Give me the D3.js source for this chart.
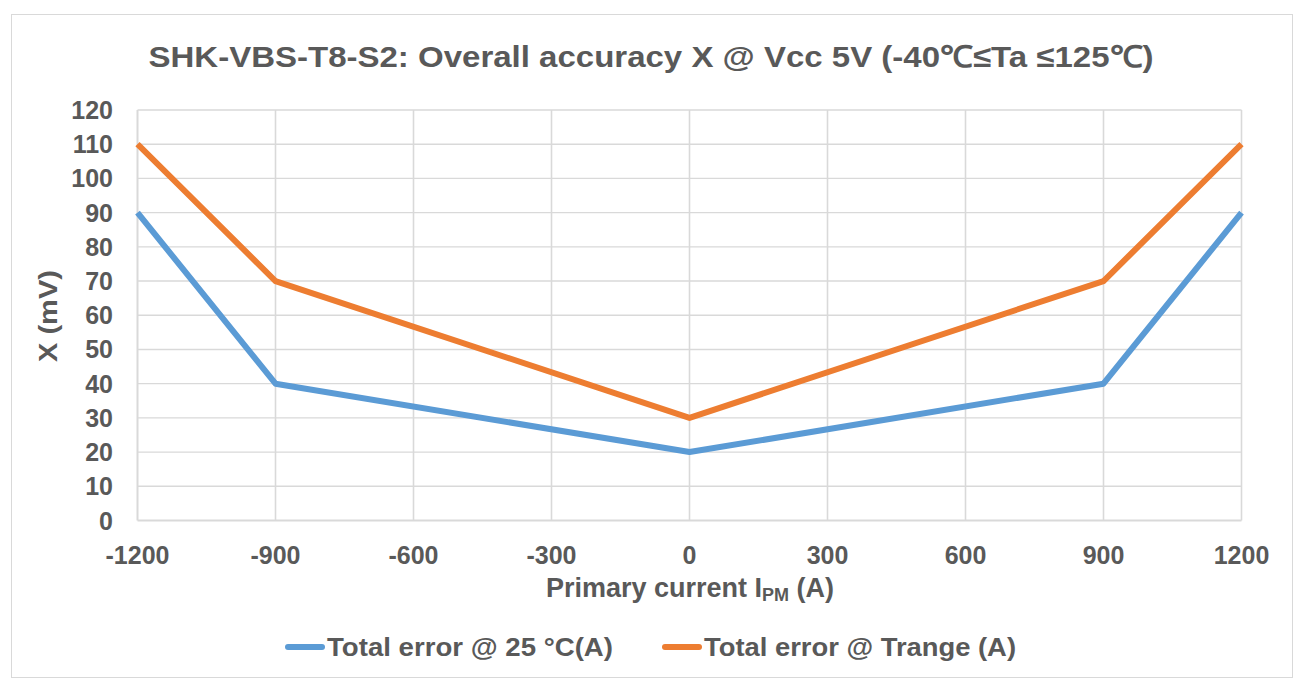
<!DOCTYPE html>
<html>
<head>
<meta charset="utf-8">
<script src="https://cdn.jsdelivr.net/npm/d3@7"></script>
<style>
  body { margin: 0; background: #fff; }
  text { font-family: "Liberation Sans", Arial, sans-serif; fill: #595959; font-weight: bold; }
</style>
</head>
<body>
<div id="chart"></div>
<script>
const currents = [-1200, -900, 0, 900, 1200];
const err25 = [90, 40, 20, 40, 90];
const errRange = [110, 70, 30, 70, 110];
const xTicks = [-1200, -900, -600, -300, 0, 300, 600, 900, 1200];
const yTicks = [0, 10, 20, 30, 40, 50, 60, 70, 80, 90, 100, 110, 120];
const seriesNames = ["Total error @ 25 °C(A)", "Total error @ Trange (A)"];
const colors = ["#5b9bd5", "#ed7d31"];

const width = 1295;
const height = 686;
const svg = d3.select("#chart").append("svg")
    .attr("width", width)
    .attr("height", height);

// chart border
svg.append("rect")
    .attr("x", 11.5).attr("y", 14.5)
    .attr("width", 1281).attr("height", 663)
    .attr("fill", "#fff")
    .attr("stroke", "#d9d9d9");

const x = d3.scaleLinear().domain([-1200, 1200]).range([137.5, 1241.5]);
const y = d3.scaleLinear().domain([0, 120]).range([520.5, 110]);

// gridlines
svg.append("g").selectAll("line")
    .data(yTicks)
    .enter().append("line")
    .attr("x1", x(-1200)).attr("x2", x(1200))
    .attr("y1", d => y(d)).attr("y2", d => y(d))
    .attr("stroke", "#d9d9d9")
    .attr("stroke-width", d => d === 0 ? 2 : 1.4);

svg.append("g").selectAll("line")
    .data(xTicks)
    .enter().append("line")
    .attr("x1", d => x(d)).attr("x2", d => x(d))
    .attr("y1", y(0)).attr("y2", y(120))
    .attr("stroke", "#d9d9d9")
    .attr("stroke-width", d => d === -1200 ? 2 : 1.6);

// tick labels
svg.append("g").selectAll("text")
    .data(yTicks)
    .enter().append("text")
    .attr("x", 113)
    .attr("y", d => y(d))
    .attr("dy", "0.36em")
    .attr("text-anchor", "end")
    .style("font-size", "25px")
    .text(d => d);

svg.append("g").selectAll("text")
    .data(xTicks)
    .enter().append("text")
    .attr("x", d => x(d))
    .attr("y", 555)
    .attr("dy", "0.36em")
    .attr("text-anchor", "middle")
    .style("font-size", "25px")
    .text(d => d);

// axis titles
const xt = svg.append("text")
    .attr("x", 690).attr("y", 597)
    .attr("text-anchor", "middle")
    .style("font-size", "27px");
xt.append("tspan").text("Primary current I");
xt.append("tspan").attr("dy", 4).style("font-size", "18px").text("PM");
xt.append("tspan").attr("dy", -4).text(" (A)");

svg.append("text")
    .attr("transform", "translate(57,316) rotate(-90)")
    .attr("text-anchor", "middle")
    .attr("textLength", 92)
    .attr("lengthAdjust", "spacingAndGlyphs")
    .style("font-size", "26px")
    .text("X (mV)");

// title
svg.append("text")
    .attr("x", 651).attr("y", 67)
    .attr("text-anchor", "middle")
    .attr("textLength", 1005)
    .attr("lengthAdjust", "spacingAndGlyphs")
    .style("font-size", "30px")
    .text("SHK-VBS-T8-S2: Overall accuracy X @ Vcc 5V (-40℃≤Ta ≤125℃)");

// lines
const line = d3.line()
    .x(d => x(d[0]))
    .y(d => y(d[1]));

[err25, errRange].forEach((vals, i) => {
    svg.append("path")
        .datum(currents.map((c, j) => [c, vals[j]]))
        .attr("fill", "none")
        .attr("stroke", colors[i])
        .attr("stroke-width", 6)
        .attr("stroke-linejoin", "round")
        .attr("d", line);
});

// legend
const legendX = [288, 665];
const legendW = [286, 312];
seriesNames.forEach((name, i) => {
    const g = svg.append("g").attr("transform", `translate(${legendX[i]},647)`);
    g.append("line")
        .attr("x1", 0).attr("x2", 34)
        .attr("stroke", colors[i])
        .attr("stroke-width", 6)
        .attr("stroke-linecap", "round");
    g.append("text")
        .attr("x", 39)
        .attr("y", 9)
        .attr("textLength", legendW[i])
        .attr("lengthAdjust", "spacingAndGlyphs")
        .style("font-size", "26px")
        .text(name);
});
</script>
</body>
</html>
